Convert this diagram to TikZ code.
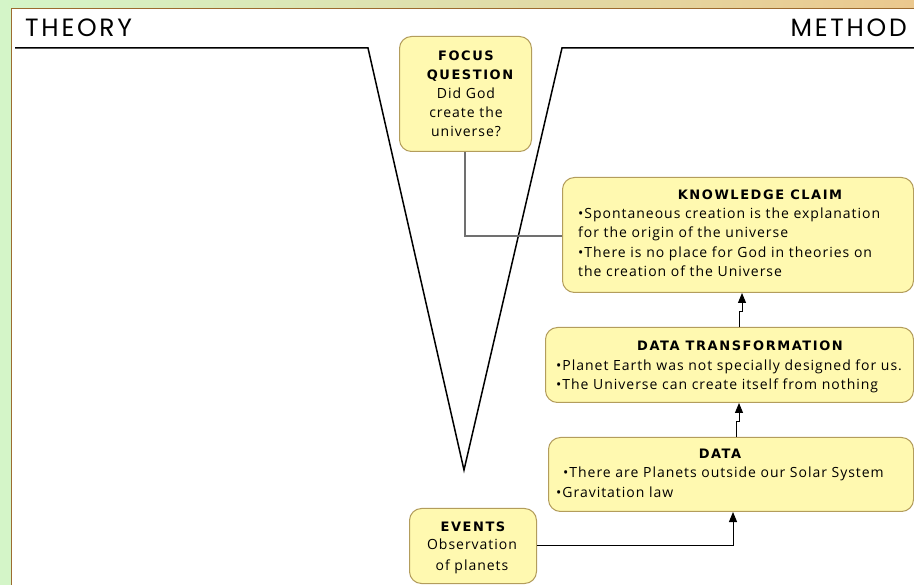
\documentclass[tikz,border=0pt]{standalone}
\usepackage{fontspec}
\setmainfont{Open Sans}
\newfontfamily\bodyfont[LetterSpace=7]{Open Sans}
\newfontfamily\titlefont[LetterSpace=12]{DejaVu Sans}
\newfontfamily\headfont[LetterSpace=11]{Poppins}
\usetikzlibrary{arrows.meta}
\definecolor{bggreen}{HTML}{D4F5C8}
\definecolor{bgtan}{HTML}{EBC88E}
\definecolor{framebrown}{HTML}{9C6B30}
\definecolor{boxfill}{HTML}{FFF9B0}
\definecolor{boxline}{HTML}{B39D5C}
\definecolor{linkgray}{HTML}{707070}
\tikzset{
  cbox/.style={draw=boxline, line width=1pt, fill=boxfill, rounded corners=12pt, anchor=north west, inner sep=0pt},
  txt/.style={anchor=base west, inner sep=0pt, font=\fontsize{14}{16}\bodyfont},
  ttl/.style={anchor=base, inner sep=0pt, font=\fontsize{13}{16}\titlefont\bfseries},
  ctxt/.style={anchor=base, inner sep=0pt, font=\fontsize{14}{16}\bodyfont},
  head/.style={inner sep=0pt, font=\fontsize{25}{28}\headfont},
  vline/.style={line width=1.5pt, black},
  uparrow/.style={line width=1pt, -{Triangle[length=10pt,width=8pt]}},
  link/.style={line width=1.2pt, linkgray}
}
\begin{document}
\begin{tikzpicture}[x=1pt,y=-1pt]
\useasboundingbox (0,0) rectangle (914,585);
% background
\fill[bggreen] (0,0) rectangle (914,585);
\shade[left color=bggreen, right color=bgtan] (0,0) rectangle (914,8);
\fill[white] (11,8) rectangle (914,585);
\draw[framebrown, line width=1.6pt] (11.5,585) -- (11.5,8.5) -- (914,8.5);
% headings
\node[head, anchor=base west] (theory) at (25,37) {THEORY};
\node[head, anchor=base east] (method) at (907,37) {METHOD};
% V shape
\coordinate (vl0) at (15,48);
\coordinate (vl1) at (368,48);
\coordinate (vb) at (464,470);
\coordinate (vr1) at (562,48);
\coordinate (vr0) at (914,48);
\draw[vline] (vl0) -- (vl1) -- (vb) -- (vr1) -- (vr0);
% boxes
\node[cbox, minimum width=132pt, minimum height=115pt] (focus) at (399,36) {};
\node[cbox, minimum width=351pt, minimum height=115pt] (claim) at (562,177) {};
\node[cbox, minimum width=368pt, minimum height=75pt] (trans) at (545,327) {};
\node[cbox, minimum width=365pt, minimum height=74pt] (data) at (548,437) {};
\node[cbox, minimum width=127pt, minimum height=75pt] (events) at (409,508) {};
% focus text
\node[ttl] (f1) at (466,61) {FOCUS};
\node[ttl] (f2) at (470,80) {QUESTION};
\node[ctxt] (f3) at (466,99) {Did God};
\node[ctxt] (f4) at (466,118) {create the};
\node[ctxt] (f5) at (466,137) {universe?};
% claim text
\node[ttl] (c0) at (760,200) {KNOWLEDGE CLAIM};
\node[txt] (c1) at (578,219) {•Spontaneous creation is the explanation};
\node[txt] (c2) at (578,238) {for the origin of the universe};
\node[txt] (c3) at (578,258) {•There is no place for God in theories on};
\node[txt] (c4) at (578,277) {the creation of the Universe};
% transformation text
\node[ttl] (t0) at (740,351) {DATA TRANSFORMATION};
\node[txt] (t1) at (556,371) {•Planet Earth was not specially designed for us.};
\node[txt] (t2) at (556,390) {•The Universe can create itself from nothing};
% data text
\node[ttl] (d0) at (720,459) {DATA};
\node[txt] (d1) at (563,478) {•There are Planets outside our Solar System};
\node[txt] (d2) at (556,498) {•Gravitation law};
% events text
\node[ttl] (e0) at (473,531) {EVENTS};
\node[ctxt] (e1) at (472,550) {Observation};
\node[ctxt] (e2) at (472,570) {of planets};
% connectors
\draw[link] (focus.south -| 465,0) -- (465,236) -- (claim.west |- 0,236);
\draw[uparrow] (trans.north -| 739,0) -- (739,312) -- (742,312) -- (claim.south -| 742,0);
\draw[uparrow] (data.north -| 736,0) -- (736,422) -- (739,422) -- (trans.south -| 739,0);
\draw[uparrow] (events.east |- 0,545) -- (733,545) -- (data.south -| 733,0);
\end{tikzpicture}
\end{document}
